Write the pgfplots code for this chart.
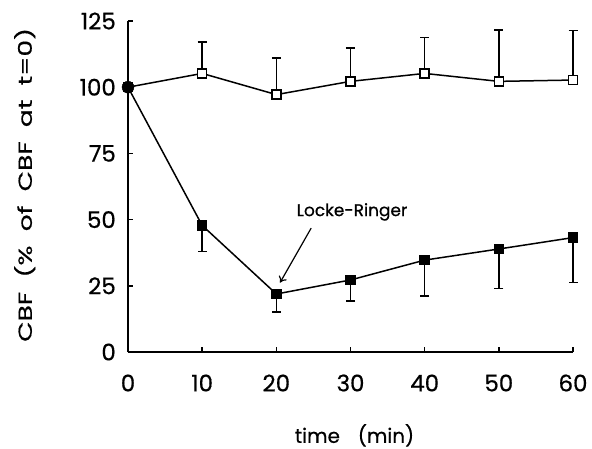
\documentclass[border=0pt]{standalone}
\usepackage{fontspec}
\setmainfont{Poppins}[FakeBold=0.6]
\newfontfamily\ylfont{Poppins}[FakeBold=0.6, FakeStretch=1.4]
\usepackage{pgfplots}
\pgfplotsset{compat=1.18}
\usetikzlibrary{arrows.meta}
\begin{document}
\begin{tikzpicture}
\path[use as bounding box] (-128bp,-97bp) rectangle (464bp,352bp);
\begin{axis}[
 at={(0,0)}, anchor=south west,
 scale only axis, width=445bp, height=331bp,
 xmin=0, xmax=60, ymin=0, ymax=125,
 axis x line*=bottom, axis y line*=left,
 axis line style={-, line width=1.5bp},
 xtick={0,10,...,60}, ytick={0,25,...,125},
 tick align=inside, major tick length=5bp,
 tick style={line width=1.5bp, black},
 /pgf/number format/assume math mode=true,
 ticklabel style={font=\fontsize{23}{26}\selectfont, inner sep=0pt},
 xticklabel style={anchor=center, yshift=-31bp},
 yticklabel style={anchor=east, xshift=-12bp},
 xlabel={time\hspace{0.9em}(min)},
 ylabel={CBF\hspace{0.75em}(\%\hspace{0.75em}of\hspace{0.75em}CBF\hspace{0.75em}at\hspace{0.75em}t=0)},
 xlabel style={font=\fontsize{20}{22}\selectfont, inner sep=0pt, at={(axis description cs:0.509,-0.252)}, anchor=center},
 ylabel style={font=\ylfont\fontsize{19}{21}\selectfont, at={(axis description cs:-0.232,0.505)}, anchor=center},
 clip=false,
]
\addplot[black, line width=1.5bp, mark=square*, mark size=4.5bp,
  mark options={fill=white, solid},
  error bars/.cd, y dir=plus, y explicit,
  error bar style={line width=1.5bp},
  error mark options={rotate=90, mark size=4.5bp, line width=1.5bp}]
 coordinates {
 (0,100) +- (0,0)
 (10,105.2) +- (0,11.8)
 (20,97.2) +- (0,13.8)
 (30,102.2) +- (0,12.6)
 (40,105.2) +- (0,13.6)
 (50,102.2) +- (0,19.4)
 (60,102.7) +- (0,18.7)
 };
\addplot[black, line width=1.5bp, mark=square*, mark size=4.5bp,
  mark options={fill=black, solid},
  error bars/.cd, y dir=minus, y explicit,
  error bar style={line width=1.5bp},
  error mark options={rotate=90, mark size=4.5bp, line width=1.5bp}]
 coordinates {
 (0,100) +- (0,0)
 (10,47.8) +- (0,9.9)
 (20,21.9) +- (0,6.8)
 (30,27.2) +- (0,7.9)
 (40,34.7) +- (0,13.6)
 (50,38.9) +- (0,14.9)
 (60,43.2) +- (0,16.9)
 };
\addplot[only marks, black, mark=*, mark size=6bp] coordinates {(0,100)};
\node[font=\fontsize{17}{20}\selectfont] at (axis cs:30.2,52.9) {Locke-Ringer};
\draw[-{To[length=6bp,width=9bp]}, line width=1.2bp] (axis cs:24.7,46.8) -- (axis cs:20.5,26.2);
\end{axis}
\end{tikzpicture}
\end{document}
